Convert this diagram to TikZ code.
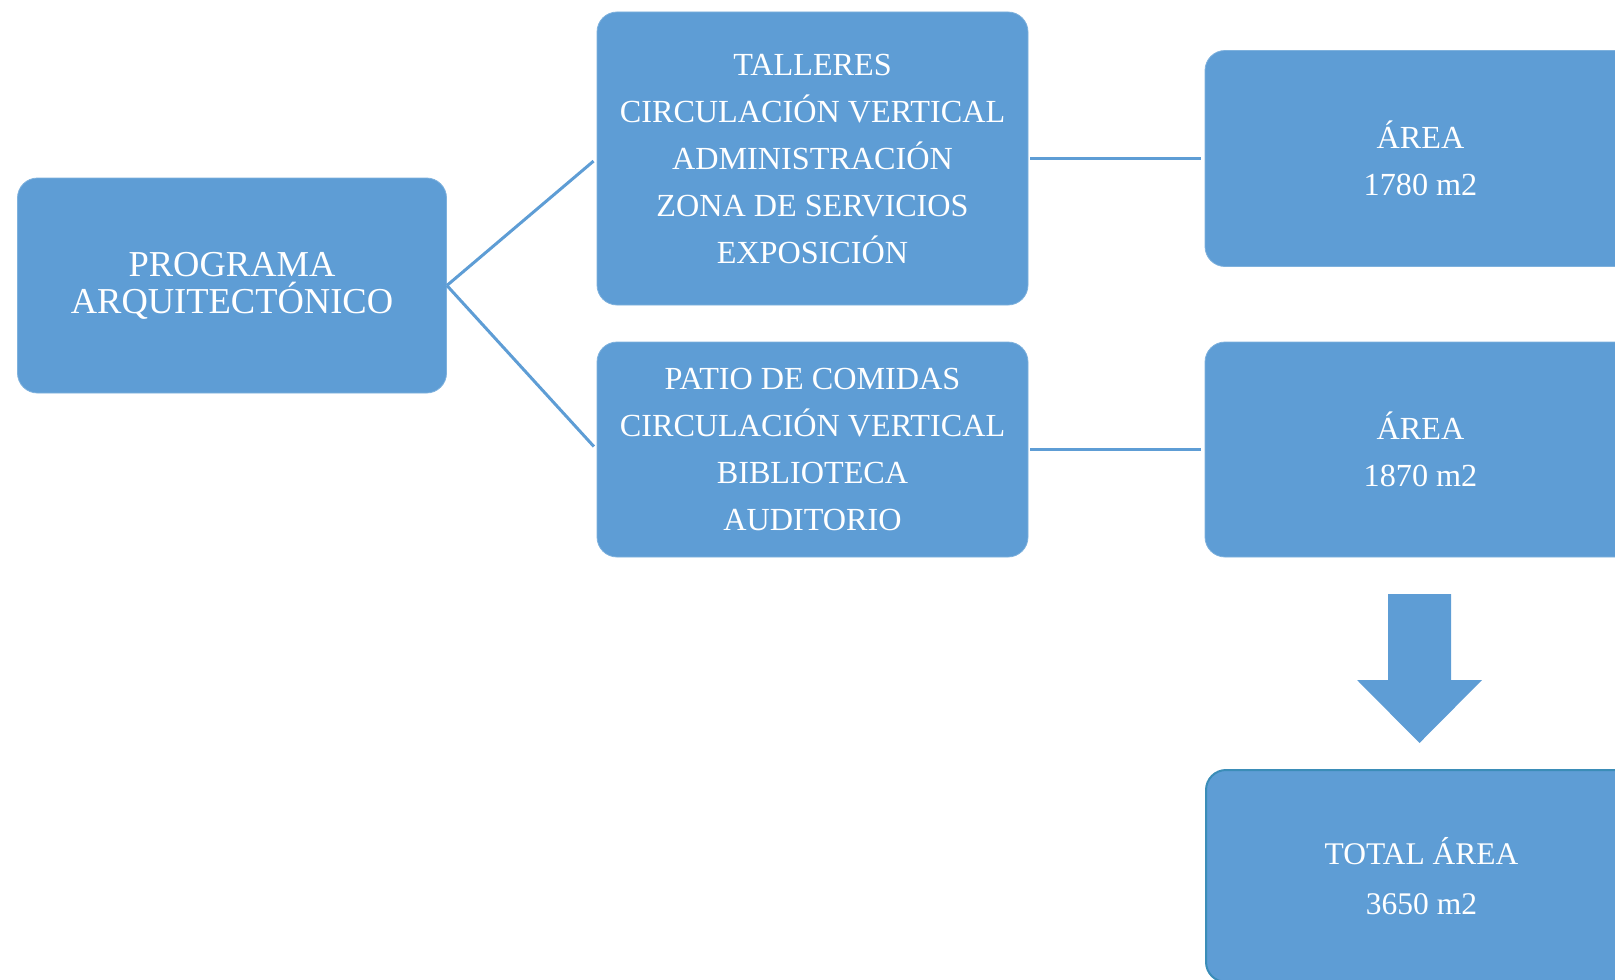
\documentclass[tikz,border=0pt]{standalone}
\usepackage{fontspec}
\setmainfont{Liberation Serif}
\usepackage{tikz}
\usetikzlibrary{positioning}
\definecolor{ProgBlue}{HTML}{5E9DD5}
\definecolor{ProgEdge}{HTML}{3B8DB8}

\begin{document}
\begin{tikzpicture}[x=0.5pt,y=-0.5pt,
  progbox/.style={fill=ProgBlue,draw=ProgBlue!80!white,line width=0.4pt,rounded corners=10pt,
    text=white,align=center,inner sep=0pt,minimum width=215.5pt},
  linkline/.style={draw=ProgBlue,line width=1.5pt,shorten <=1pt,shorten >=2pt}]
\clip (0,0) rectangle (1615,979);
\node[progbox,minimum width=214.5pt,minimum height=107.5pt,font=\fontsize{18.25}{18.5}\selectfont] (prog) at (232,285.5) {PROGRAMA\\ARQUITECTÓNICO};
\node[progbox,minimum height=146.5pt,font=\fontsize{16.1}{23.5}\selectfont] (talleres) at (812.5,158.5) {TALLERES\\CIRCULACIÓN VERTICAL\\ADMINISTRACIÓN\\ZONA DE SERVICIOS\\EXPOSICIÓN};
\node[progbox,minimum height=107.5pt,font=\fontsize{16.1}{23.5}\selectfont] (patio) at (812.5,449.5) {PATIO DE COMIDAS\\CIRCULACIÓN VERTICAL\\BIBLIOTECA\\AUDITORIO};
\node[progbox,minimum height=108pt,font=\fontsize{16.1}{23.5}\selectfont] (area1) at (1420.5,158.5) {ÁREA\\1780 m2};
\node[progbox,minimum height=107.5pt,font=\fontsize{16.1}{23.5}\selectfont] (area2) at (1420.5,449.5) {ÁREA\\1870 m2};
\node[progbox,draw=ProgEdge,line width=1pt,minimum height=106pt,font=\fontsize{15.75}{25}\selectfont] (total) at (1421.5,876) {TOTAL ÁREA\\3650 m2};
% connectors
\draw[linkline,shorten <=0pt] (prog.east) -- (talleres.west);
\draw[linkline,shorten <=0pt] (prog.east) -- (patio.west);
\draw[linkline] (talleres.east) -- (area1.west);
\draw[linkline] (patio.east) -- (area2.west);
% down arrow
\fill[ProgBlue] (1388,594) -- (1451,594) -- (1451,680) -- (1482,680) -- (1419.5,743) -- (1357,680) -- (1388,680) -- cycle;
\end{tikzpicture}
\end{document}
